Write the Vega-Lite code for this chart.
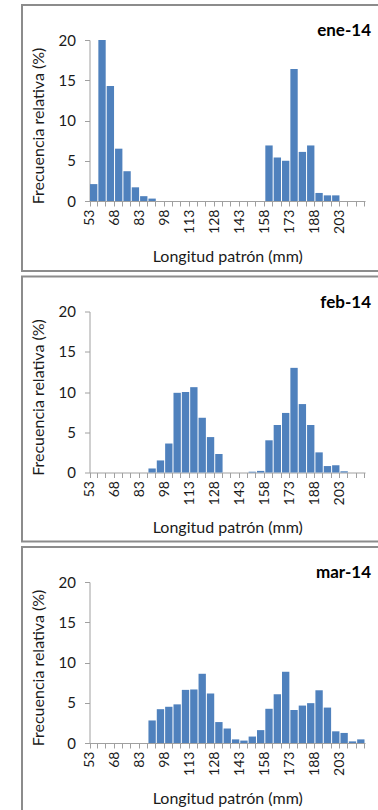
{
  "$schema": "https://vega.github.io/schema/vega-lite/v6.json",
  "padding": {"left": 14, "top": 4, "right": 0, "bottom": 0},
  "background": "white",
  "spacing": 5.5,
  "bounds": "flush",
  "data": {
    "values": [
      {"m":"ene-14","L":53,"f":2.1},{"m":"ene-14","L":58,"f":20.0},{"m":"ene-14","L":63,"f":14.3},{"m":"ene-14","L":68,"f":6.5},{"m":"ene-14","L":73,"f":3.7},{"m":"ene-14","L":78,"f":1.7},{"m":"ene-14","L":83,"f":0.6},{"m":"ene-14","L":88,"f":0.3},{"m":"ene-14","L":93,"f":0},{"m":"ene-14","L":98,"f":0},{"m":"ene-14","L":103,"f":0},{"m":"ene-14","L":108,"f":0},{"m":"ene-14","L":113,"f":0},{"m":"ene-14","L":118,"f":0},{"m":"ene-14","L":123,"f":0},{"m":"ene-14","L":128,"f":0},{"m":"ene-14","L":133,"f":0},{"m":"ene-14","L":138,"f":0},{"m":"ene-14","L":143,"f":0},{"m":"ene-14","L":148,"f":0},{"m":"ene-14","L":153,"f":0},{"m":"ene-14","L":158,"f":6.9},{"m":"ene-14","L":163,"f":5.4},{"m":"ene-14","L":168,"f":5.0},{"m":"ene-14","L":173,"f":16.4},{"m":"ene-14","L":178,"f":6.1},{"m":"ene-14","L":183,"f":6.9},{"m":"ene-14","L":188,"f":1.0},{"m":"ene-14","L":193,"f":0.7},{"m":"ene-14","L":198,"f":0.7},{"m":"ene-14","L":203,"f":0},{"m":"ene-14","L":208,"f":0},{"m":"ene-14","L":213,"f":0},
      {"m":"feb-14","L":53,"f":0},{"m":"feb-14","L":58,"f":0},{"m":"feb-14","L":63,"f":0},{"m":"feb-14","L":68,"f":0},{"m":"feb-14","L":73,"f":0},{"m":"feb-14","L":78,"f":0},{"m":"feb-14","L":83,"f":0},{"m":"feb-14","L":88,"f":0.5},{"m":"feb-14","L":93,"f":1.5},{"m":"feb-14","L":98,"f":3.6},{"m":"feb-14","L":103,"f":9.9},{"m":"feb-14","L":108,"f":10.0},{"m":"feb-14","L":113,"f":10.6},{"m":"feb-14","L":118,"f":6.8},{"m":"feb-14","L":123,"f":4.4},{"m":"feb-14","L":128,"f":2.3},{"m":"feb-14","L":133,"f":0},{"m":"feb-14","L":138,"f":0},{"m":"feb-14","L":143,"f":0},{"m":"feb-14","L":148,"f":0.1},{"m":"feb-14","L":153,"f":0.2},{"m":"feb-14","L":158,"f":4.0},{"m":"feb-14","L":163,"f":5.9},{"m":"feb-14","L":168,"f":7.4},{"m":"feb-14","L":173,"f":13.0},{"m":"feb-14","L":178,"f":8.5},{"m":"feb-14","L":183,"f":5.9},{"m":"feb-14","L":188,"f":2.5},{"m":"feb-14","L":193,"f":0.8},{"m":"feb-14","L":198,"f":0.9},{"m":"feb-14","L":203,"f":0.15},{"m":"feb-14","L":208,"f":0},{"m":"feb-14","L":213,"f":0},
      {"m":"mar-14","L":53,"f":0},{"m":"mar-14","L":58,"f":0},{"m":"mar-14","L":63,"f":0},{"m":"mar-14","L":68,"f":0},{"m":"mar-14","L":73,"f":0},{"m":"mar-14","L":78,"f":0},{"m":"mar-14","L":83,"f":0},{"m":"mar-14","L":88,"f":2.8},{"m":"mar-14","L":93,"f":4.2},{"m":"mar-14","L":98,"f":4.5},{"m":"mar-14","L":103,"f":4.8},{"m":"mar-14","L":108,"f":6.6},{"m":"mar-14","L":113,"f":6.65},{"m":"mar-14","L":118,"f":8.6},{"m":"mar-14","L":123,"f":6.15},{"m":"mar-14","L":128,"f":2.6},{"m":"mar-14","L":133,"f":1.8},{"m":"mar-14","L":138,"f":0.45},{"m":"mar-14","L":143,"f":0.3},{"m":"mar-14","L":148,"f":0.8},{"m":"mar-14","L":153,"f":1.6},{"m":"mar-14","L":158,"f":4.25},{"m":"mar-14","L":163,"f":6.05},{"m":"mar-14","L":168,"f":8.85},{"m":"mar-14","L":173,"f":4.1},{"m":"mar-14","L":178,"f":4.65},{"m":"mar-14","L":183,"f":4.95},{"m":"mar-14","L":188,"f":6.55},{"m":"mar-14","L":193,"f":4.4},{"m":"mar-14","L":198,"f":1.45},{"m":"mar-14","L":203,"f":1.25},{"m":"mar-14","L":208,"f":0.2},{"m":"mar-14","L":213,"f":0.45}
    ]
  },
  "vconcat": [
    {
      "width": 370, "height": 266,
      "title": {"text": "ene-14", "dx": -21, "offset": -35},
      "transform": [{"filter": "datum.m == 'ene-14'"}],
      "mark": {"type": "bar"},
      "encoding": {
        "x": {"field": "L", "type": "ordinal",
          "scale": {"range": [67.5, 343], "paddingInner": 0.12, "paddingOuter": 0.06},
          "axis": {"title": "Longitud patrón (mm)", "offset": -70, "labelAngle": -90, "bandPosition": 1, "tickExtra": true, "labelOffset": -3.7, "labelExpr": "(datum.value - 53) % 15 == 0 ? datum.label : ''", "labelOverlap": false, "labelPadding": 3, "titlePadding": 15, "labelAlign": "right", "labelBaseline": "middle"}},
        "y": {"field": "f", "type": "quantitative",
          "scale": {"domain": [0, 20], "range": [196, 35], "nice": false},
          "axis": {"title": "Frecuencia relativa (%)", "offset": -67.5, "values": [0, 5, 10, 15, 20], "labelPadding": 9, "titlePadding": 12, "titleY": 120.5, "labelFontSize": 15}}
      }
    },
    {
      "width": 370, "height": 265,
      "title": {"text": "feb-14", "dx": -21, "offset": -35},
      "transform": [{"filter": "datum.m == 'feb-14'"}],
      "mark": {"type": "bar"},
      "encoding": {
        "x": {"field": "L", "type": "ordinal",
          "scale": {"range": [67.5, 343], "paddingInner": 0.12, "paddingOuter": 0.06},
          "axis": {"title": "Longitud patrón (mm)", "offset": -69, "labelAngle": -90, "bandPosition": 1, "tickExtra": true, "labelOffset": -3.7, "labelExpr": "(datum.value - 53) % 15 == 0 ? datum.label : ''", "labelOverlap": false, "labelPadding": 3, "titlePadding": 15, "labelAlign": "right", "labelBaseline": "middle"}},
        "y": {"field": "f", "type": "quantitative",
          "scale": {"domain": [0, 20], "range": [196, 35], "nice": false},
          "axis": {"title": "Frecuencia relativa (%)", "offset": -67.5, "values": [0, 5, 10, 15, 20], "labelPadding": 9, "titlePadding": 12, "titleY": 120.5, "labelFontSize": 15}}
      }
    },
    {
      "width": 370, "height": 265,
      "title": {"text": "mar-14", "dx": -21, "offset": -35},
      "transform": [{"filter": "datum.m == 'mar-14'"}],
      "mark": {"type": "bar"},
      "encoding": {
        "x": {"field": "L", "type": "ordinal",
          "scale": {"range": [67.5, 343], "paddingInner": 0.12, "paddingOuter": 0.06},
          "axis": {"title": "Longitud patrón (mm)", "offset": -69, "labelAngle": -90, "bandPosition": 1, "tickExtra": true, "labelOffset": -3.7, "labelExpr": "(datum.value - 53) % 15 == 0 ? datum.label : ''", "labelOverlap": false, "labelPadding": 3, "titlePadding": 15, "labelAlign": "right", "labelBaseline": "middle"}},
        "y": {"field": "f", "type": "quantitative",
          "scale": {"domain": [0, 20], "range": [196, 35], "nice": false},
          "axis": {"title": "Frecuencia relativa (%)", "offset": -67.5, "values": [0, 5, 10, 15, 20], "labelPadding": 9, "titlePadding": 12, "titleY": 120.5, "labelFontSize": 15}}
      }
    }
  ],
  "config": {
    "view": {"stroke": "#8c8c8c", "strokeWidth": 2},
    "axis": {"labelFont": "Lato", "titleFont": "Lato", "labelFontSize": 14, "titleFontSize": 16, "titleFontWeight": "normal", "labelColor": "#1a1a1a", "titleColor": "#1a1a1a", "domainColor": "#a0a0a0", "tickColor": "#a0a0a0", "tickSize": 5, "grid": false},
    "title": {"font": "Lato", "fontSize": 17, "fontWeight": "bold", "color": "#000000", "anchor": "end", "frame": "group"},
    "bar": {"color": "#4f81bd"}
  }
}
